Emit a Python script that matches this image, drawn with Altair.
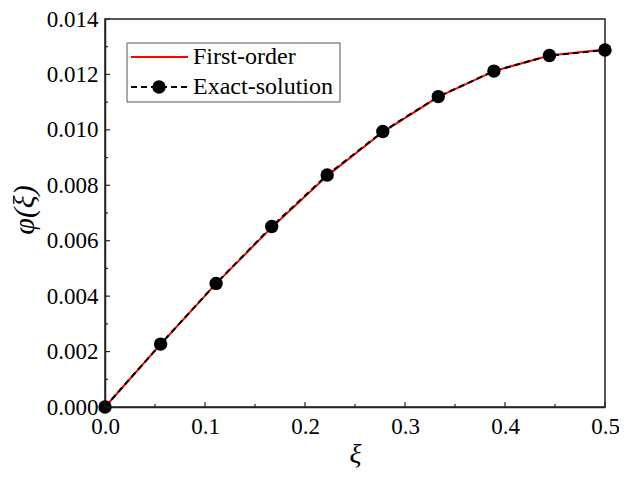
import altair as alt
import pandas as pd

xi = [0.0, 0.0556, 0.1111, 0.1667, 0.2222, 0.2778, 0.3333, 0.3889, 0.4444, 0.5]
exact = [0.0, 0.00227, 0.00446, 0.00651, 0.00837, 0.00994, 0.01120, 0.01212, 0.01268, 0.01288]
first_order = [0.0, 0.00226, 0.00445, 0.00648, 0.00834, 0.00992, 0.01119, 0.01212, 0.01268, 0.01290]

x_major = [0.0, 0.1, 0.2, 0.3, 0.4, 0.5]
x_minor = [0.05, 0.15, 0.25, 0.35, 0.45]
y_major = [0.0, 0.002, 0.004, 0.006, 0.008, 0.010, 0.012, 0.014]
y_minor = [0.001, 0.003, 0.005, 0.007, 0.009, 0.011, 0.013]

W, H = 500, 388
FONT = "Liberation Serif"

df = pd.DataFrame({"xi": xi, "exact": exact, "first": first_order})

xs = alt.Scale(domain=[0, 0.5], nice=False, zero=False, padding=0)
ys = alt.Scale(domain=[0, 0.014], nice=False, zero=False, padding=0)

xaxis = alt.Axis(values=x_major, format=".1f", ticks=False, labelPadding=8,
                 labelFlush=False, title="ξ")
yaxis = alt.Axis(values=y_major, format=".3f", ticks=False, labelPadding=7,
                 labelFlush=False, title=None)

red = alt.Chart(df).mark_line(color="#ff0000", strokeWidth=2).encode(
    x=alt.X("xi:Q", scale=xs, axis=xaxis),
    y=alt.Y("first:Q", scale=ys, axis=yaxis),
)
black = alt.Chart(df).mark_line(color="black", strokeWidth=2, strokeDash=[6, 4]).encode(
    x=alt.X("xi:Q", scale=xs, axis=xaxis),
    y=alt.Y("exact:Q", scale=ys, axis=yaxis),
)
pts = alt.Chart(df).mark_circle(color="black", size=180, opacity=1).encode(
    x=alt.X("xi:Q", scale=xs, axis=xaxis),
    y=alt.Y("exact:Q", scale=ys, axis=yaxis),
)

# inward ticks
xmaj = alt.Chart(pd.DataFrame({"v": x_major})).mark_rule(color="#222", strokeWidth=1.2).encode(
    x=alt.X("v:Q", scale=xs, axis=xaxis), y=alt.value(H - 5), y2=alt.value(H))
xmin = alt.Chart(pd.DataFrame({"v": x_minor})).mark_rule(color="#222", strokeWidth=1.2).encode(
    x=alt.X("v:Q", scale=xs, axis=xaxis), y=alt.value(H - 3), y2=alt.value(H))
ymaj = alt.Chart(pd.DataFrame({"v": y_major})).mark_rule(color="#222", strokeWidth=1.2).encode(
    y=alt.Y("v:Q", scale=ys, axis=yaxis), x=alt.value(0), x2=alt.value(5))
ymin = alt.Chart(pd.DataFrame({"v": y_minor})).mark_rule(color="#222", strokeWidth=1.2).encode(
    y=alt.Y("v:Q", scale=ys, axis=yaxis), x=alt.value(0), x2=alt.value(3))

# y-axis title
ytitle = alt.Chart(pd.DataFrame({"t": ["φ(ξ)"]})).mark_text(
    font=FONT, fontSize=30, fontStyle="italic", angle=270, align="center",
    baseline="middle", color="black").encode(
    text="t:N", x=alt.value(-80), y=alt.value(191))

# legend
lx0, ly0, lx1, ly1 = 22, 24, 235, 83
box = alt.Chart(pd.DataFrame({"a": [0]})).mark_rect(
    fill="white", stroke="#555", strokeWidth=1).encode(
    x=alt.value(lx0), x2=alt.value(lx1), y=alt.value(ly0), y2=alt.value(ly1))
leg_red = alt.Chart(pd.DataFrame({"a": [0]})).mark_rule(color="#ff0000", strokeWidth=2).encode(
    x=alt.value(26), x2=alt.value(83), y=alt.value(38))
leg_blk = alt.Chart(pd.DataFrame({"a": [0]})).mark_rule(color="black", strokeWidth=2, strokeDash=[6, 4]).encode(
    x=alt.value(26), x2=alt.value(83), y=alt.value(68))
leg_pt = alt.Chart(pd.DataFrame({"a": [0]})).mark_circle(color="black", size=180, opacity=1).encode(
    x=alt.value(54), y=alt.value(68))
leg_t1 = alt.Chart(pd.DataFrame({"t": ["First-order"]})).mark_text(
    font=FONT, fontSize=24, align="left", baseline="middle", color="black").encode(
    text="t:N", x=alt.value(88), y=alt.value(38))
leg_t2 = alt.Chart(pd.DataFrame({"t": ["Exact-solution"]})).mark_text(
    font=FONT, fontSize=24, align="left", baseline="middle", color="black").encode(
    text="t:N", x=alt.value(88), y=alt.value(68))

chart = alt.layer(
    red, black, pts, xmaj, xmin, ymaj, ymin, ytitle, box, leg_red, leg_blk, leg_pt, leg_t1, leg_t2
).properties(
    width=W, height=H,
    background="white",
    autosize=alt.AutoSizeParams(type="none"),
    padding={"left": 97, "top": 11, "right": 14, "bottom": 65},
).configure_axis(
    labelFont=FONT, labelFontSize=23, labelColor="black",
    titleFont=FONT, titleFontSize=28, titleFontStyle="italic",
    titleFontWeight="normal", titleColor="black", titlePadding=2,
    domainColor="#222", domainWidth=1.5, grid=False, ticks=False,
).configure_view(
    stroke="#222", strokeWidth=1.5
)

chart.save("out.html", embed_options={"renderer": "svg", "actions": False})
